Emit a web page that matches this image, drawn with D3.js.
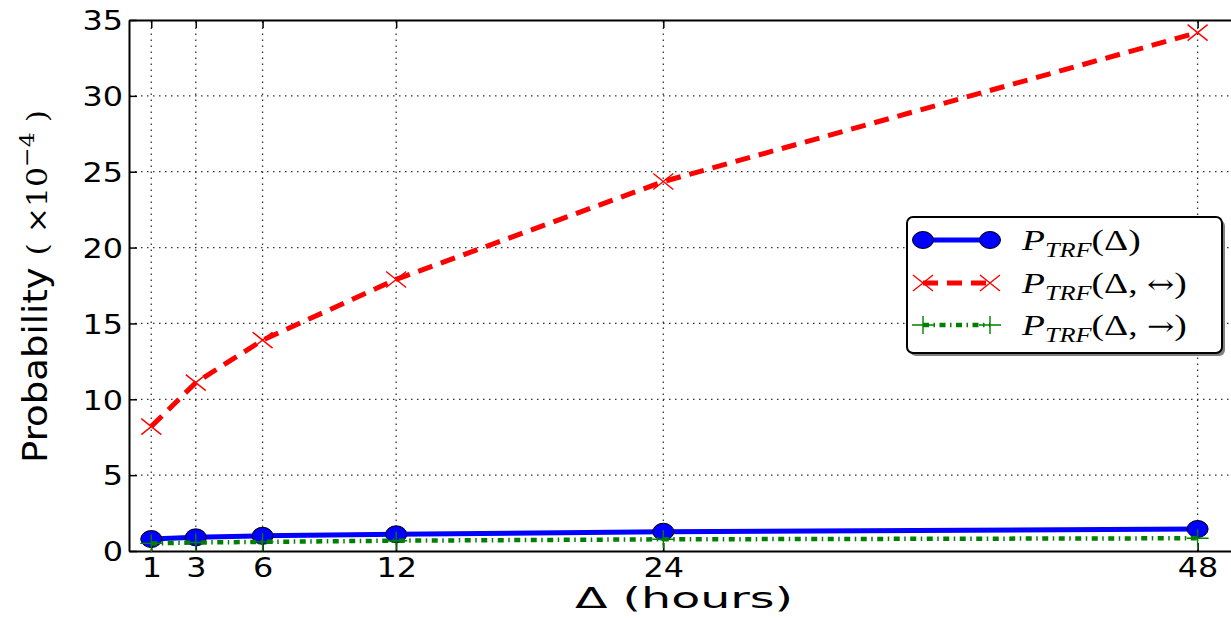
<!DOCTYPE html>
<html>
<head>
<meta charset="utf-8">
<script src="https://cdn.jsdelivr.net/npm/d3@7"></script>
<style>
  body { margin: 0; background: #fff; }
  svg { display: block; }
</style>
</head>
<body>
<div id="chart"></div>
<script>
var hours = [1, 3, 6, 12, 24, 48];
var pAll = [0.79, 0.9, 1.0, 1.1, 1.27, 1.45];
var pBoth = [8.2, 11.1, 13.9, 17.9, 24.35, 34.17];
var pOne = [0.5, 0.56, 0.6, 0.68, 0.77, 0.84];
var yTicks = [0, 5, 10, 15, 20, 25, 30, 35];

var W = 1231, H = 618;
var svg = d3.select("#chart").append("svg")
    .attr("width", W)
    .attr("height", H);

var x = d3.scaleLinear().domain([0, 49.5]).range([129, 1231]);
var y = d3.scaleLinear().domain([0, 35]).range([551, 20]);
var sx = 1.18;  // text looks stretched sideways in the original

// grid
var grid = svg.append("g").attr("stroke", "#333").attr("stroke-width", 1.3)
    .attr("stroke-dasharray", "1.5,4.5");
grid.selectAll("line.v").data(hours).enter().append("line")
    .attr("x1", d => x(d)).attr("x2", d => x(d))
    .attr("y1", y(0)).attr("y2", y(35));
grid.selectAll("line.h").data(yTicks.slice(1, -1)).enter().append("line")
    .attr("x1", x(0)).attr("x2", W)
    .attr("y1", d => y(d)).attr("y2", d => y(d));

// axes
var xAxis = svg.append("g").attr("transform", "translate(0," + y(0) + ")")
    .call(d3.axisBottom(x).tickValues(hours).tickSize(-8).tickSizeOuter(0));
var yAxis = svg.append("g").attr("transform", "translate(" + x(0) + ",0)")
    .call(d3.axisLeft(y).tickValues(yTicks).tickSize(-8).tickSizeOuter(0));
svg.append("g").attr("transform", "translate(0," + y(35) + ")")
    .call(d3.axisTop(x).tickValues(hours).tickSize(-8).tickSizeOuter(0).tickFormat(""));

svg.selectAll(".domain").attr("stroke", "#000").attr("stroke-width", 2);
svg.selectAll(".tick line").attr("stroke", "#000").attr("stroke-width", 1.5);

xAxis.selectAll("text")
    .attr("y", null).attr("dy", null)
    .attr("transform", "translate(0,26) scale(" + sx + ",1)")
    .style("font-family", "DejaVu Sans")
    .style("font-size", "27px")
    .attr("fill", "#000");
yAxis.selectAll("text")
    .attr("x", null).attr("dy", "0.36em")
    .attr("transform", "translate(-6,0) scale(" + sx + ",1)")
    .style("font-family", "DejaVu Sans")
    .style("font-size", "27px")
    .attr("fill", "#000");

// axis titles
svg.append("text")
    .attr("x", 575).attr("y", 608)
    .attr("textLength", 218).attr("lengthAdjust", "spacingAndGlyphs")
    .style("font-family", "DejaVu Sans")
    .style("font-size", "28px")
    .text("\u0394 (hours)");

var yl = svg.append("text")
    .attr("transform", "translate(47,463) rotate(-90)")
    .attr("textLength", 353).attr("lengthAdjust", "spacingAndGlyphs")
    .style("font-family", "DejaVu Sans")
    .style("font-size", "33px");
yl.append("tspan").text("Probability ");
yl.append("tspan").style("font-family", "DejaVu Serif")
    .style("font-size", "28px").text("( \u00d710");
yl.append("tspan").attr("dy", -13).style("font-family", "DejaVu Serif")
    .style("font-size", "21px").text("\u22124");
yl.append("tspan").attr("dy", 13).style("font-family", "DejaVu Serif")
    .style("font-size", "28px").text(" )");

// series
var line = d3.line().x((d, i) => x(hours[i])).y(d => y(d));

svg.append("path").datum(pAll).attr("d", line)
    .attr("fill", "none").attr("stroke", "#0000ff").attr("stroke-width", 5);
svg.selectAll("ellipse.all").data(pAll).enter().append("ellipse")
    .attr("cx", (d, i) => x(hours[i])).attr("cy", d => y(d))
    .attr("rx", 10.5).attr("ry", 8.5)
    .attr("fill", "#0000ff").attr("stroke", "#000").attr("stroke-width", 1);

svg.append("path").datum(pBoth).attr("d", line)
    .attr("fill", "none").attr("stroke", "#ff0000").attr("stroke-width", 5)
    .attr("stroke-dasharray", "15,9");
function cross(g, cx, cy, color) {
    g.append("path")
        .attr("d", "M" + (cx - 10) + "," + (cy - 8) + "L" + (cx + 10) + "," + (cy + 8) +
            "M" + (cx - 10) + "," + (cy + 8) + "L" + (cx + 10) + "," + (cy - 8))
        .attr("stroke", color).attr("stroke-width", 1.4).attr("fill", "none");
}
function plus(g, cx, cy, color) {
    g.append("path")
        .attr("d", "M" + (cx - 11) + "," + cy + "L" + (cx + 11) + "," + cy +
            "M" + cx + "," + (cy - 9) + "L" + cx + "," + (cy + 9))
        .attr("stroke", color).attr("stroke-width", 1.4).attr("fill", "none");
}
var marks = svg.append("g");
pBoth.forEach((d, i) => cross(marks, x(hours[i]), y(d), "#ff0000"));

svg.append("path").datum(pOne).attr("d", line)
    .attr("fill", "none").attr("stroke", "#008000").attr("stroke-width", 4.5)
    .attr("stroke-dasharray", "6,4.5,1.5,4.5");
pOne.forEach((d, i) => plus(marks, x(hours[i]), y(d), "#008000"));

// legend
var lg = svg.append("g");
lg.append("rect").attr("x", 910).attr("y", 220).attr("width", 315).attr("height", 136)
    .attr("rx", 6).attr("fill", "#808080");
lg.append("rect").attr("x", 907).attr("y", 217).attr("width", 315).attr("height", 136)
    .attr("rx", 6).attr("fill", "#fff").attr("stroke", "#000").attr("stroke-width", 2);

var labels = ["", "\u2194", "\u2192"];
var rowY = [240, 283, 325];
var x0 = 923, x1 = 990;

lg.append("line").attr("x1", x0).attr("x2", x1).attr("y1", rowY[0]).attr("y2", rowY[0])
    .attr("stroke", "#0000ff").attr("stroke-width", 5);
[x0, x1].forEach(cx => lg.append("ellipse").attr("cx", cx).attr("cy", rowY[0])
    .attr("rx", 10.5).attr("ry", 8.5).attr("fill", "#0000ff").attr("stroke", "#000"));

lg.append("line").attr("x1", x0).attr("x2", x1).attr("y1", rowY[1]).attr("y2", rowY[1])
    .attr("stroke", "#ff0000").attr("stroke-width", 5).attr("stroke-dasharray", "15,9");
[x0, x1].forEach(cx => cross(lg, cx, rowY[1], "#ff0000"));

lg.append("line").attr("x1", x0).attr("x2", x1).attr("y1", rowY[2]).attr("y2", rowY[2])
    .attr("stroke", "#008000").attr("stroke-width", 4.5).attr("stroke-dasharray", "6,4.5,1.5,4.5");
[x0, x1].forEach(cx => plus(lg, cx, rowY[2], "#008000"));

labels.forEach((l, i) => {
    var t = lg.append("text")
        .attr("transform", "translate(1022," + (rowY[i] + 10) + ") scale(1.25,1)")
        .style("font-family", "Liberation Serif")
        .style("font-size", "30px");
    t.append("tspan").style("font-style", "italic").text("P");
    t.append("tspan").attr("dy", 7).style("font-style", "italic")
        .style("font-size", "21px").text("TRF");
    t.append("tspan").attr("dy", -7).text("(\u0394" + (l ? ", " : ""));
    if (l) t.append("tspan").style("font-family", "DejaVu Serif").style("font-size", "26px").text(l);
    t.append("tspan").text(")");
});
</script>
</body>
</html>
